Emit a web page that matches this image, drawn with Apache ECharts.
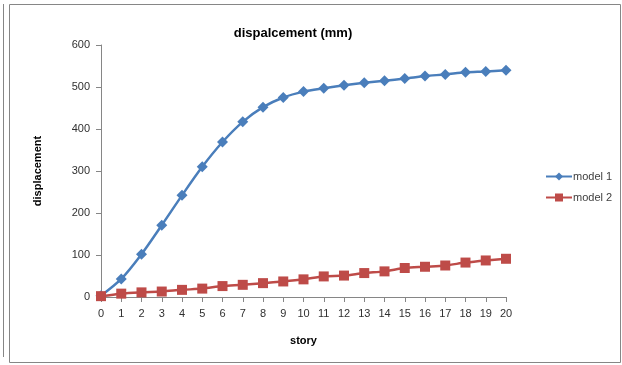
<!DOCTYPE html>
<html><head><meta charset="utf-8">
<script src="https://cdn.jsdelivr.net/npm/echarts@6/dist/echarts.min.js"></script>
<style>html,body{margin:0;padding:0;background:#fff}#c{width:622px;height:365px}</style>
</head><body><div id="c"></div>
<script>
const stories = ['0','1','2','3','4','5','6','7','8','9','10','11','12','13','14','15','16','17','18','19','20'];
const model1 = [3,43,102,171,242,310,369,417,452,475,489,497,504,510,515,520,526,530,535,537,540];
const model2 = [2,8,11,13,17,20,26,29,33,37,42,49,51,57,61,69,72,75,82,87,91];
const yTicks = {min:0, max:600, interval:100};

const chart = echarts.init(document.getElementById('c'), null, {renderer:'canvas'});
const font = 'Liberation Sans, Arial, sans-serif';
chart.setOption({
  animation:false,
  backgroundColor:'#fff',
  title:{text:'dispalcement (mm)', left:288, textAlign:'center', top:22,
    textStyle:{fontFamily:font, fontSize:13, fontWeight:'bold', color:'#000'}},
  grid:{left:101, right:116, top:45, bottom:68, containLabel:false},
  legend:{orient:'vertical', left:540, top:166, itemGap:10, itemWidth:26, itemHeight:10,
    textStyle:{fontFamily:font, fontSize:11, color:'#404040', padding:[0,0,0,-4]},
    data:['model 1','model 2']},
  xAxis:{type:'category', data:stories, boundaryGap:false,
    name:'story', nameLocation:'middle', nameGap:38,
    nameTextStyle:{fontFamily:font, fontSize:11, fontWeight:'bold', color:'#000'},
    axisLine:{lineStyle:{color:'#868686'}},
    axisTick:{alignWithLabel:true, length:5, lineStyle:{color:'#868686'}},
    axisLabel:{fontFamily:font, fontSize:11, color:'#303030', margin:11, interval:0},
    splitLine:{show:false}},
  yAxis:{type:'value', min:yTicks.min, max:yTicks.max, interval:yTicks.interval,
    name:'displacement', nameLocation:'middle', nameGap:58, nameRotate:90,
    nameTextStyle:{fontFamily:font, fontSize:11, fontWeight:'bold', color:'#000'},
    axisLine:{show:true, lineStyle:{color:'#868686'}},
    axisTick:{show:true, length:5, lineStyle:{color:'#868686'}},
    axisLabel:{fontFamily:font, fontSize:11, color:'#303030', margin:11},
    splitLine:{show:false}},
  series:[
    {name:'model 1', type:'line', data:model1, smooth:0.3, symbol:'diamond', symbolSize:11,
      lineStyle:{color:'#4a7ebb', width:2.5}, itemStyle:{color:'#4a7ebb'}},
    {name:'model 2', type:'line', data:model2, smooth:0.3, symbol:'rect', symbolSize:10,
      lineStyle:{color:'#be4b48', width:2.5}, itemStyle:{color:'#be4b48'}}
  ],
  graphic:[
    {type:'rect', shape:{x:9.5, y:4.5, width:611, height:358}, style:{fill:null, stroke:'#868686', lineWidth:1}, silent:true},
    {type:'line', shape:{x1:3.5, y1:4, x2:3.5, y2:357}, style:{stroke:'#868686', lineWidth:1}, silent:true}
  ]
});
</script></body></html>
